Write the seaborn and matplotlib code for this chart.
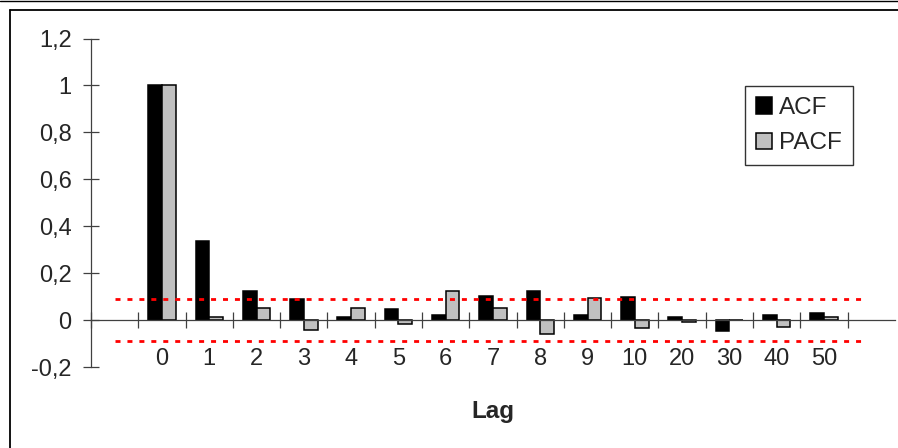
import numpy as np
import pandas as pd
import seaborn as sns
import matplotlib.pyplot as plt
from matplotlib.lines import Line2D
from matplotlib.patches import Patch

# Autocorrelation and partial autocorrelation by lag
lags = ["0", "1", "2", "3", "4", "5", "6", "7", "8", "9", "10", "20", "30", "40", "50"]
acf = [1.0, 0.335, 0.124, 0.088, 0.012, 0.046, 0.02, 0.104, 0.123, 0.02, 0.097,
       0.012, -0.046, 0.02, 0.029]
pacf = [1.0, 0.012, 0.053, -0.043, 0.053, -0.017, 0.123, 0.053, -0.061, 0.095,
        -0.033, -0.01, 0.0, -0.028, 0.012]
conf_bound = 0.089  # approximate 95% significance band
y_ticks = [-0.2, 0.0, 0.2, 0.4, 0.6, 0.8, 1.0, 1.2]
y_labels = ["-0,2", "0", "0,2", "0,4", "0,6", "0,8", "1", "1,2"]

df = pd.DataFrame({
    "Lag": lags * 2,
    "value": acf + pacf,
    "series": ["ACF"] * len(lags) + ["PACF"] * len(lags),
})

sns.set_style("white")
plt.rcParams["font.family"] = ["Liberation Sans", "DejaVu Sans"]

fig = plt.figure(figsize=(8.98, 4.48), dpi=100)
ax = fig.add_axes([0.10134, 0.18080, 0.89532, 0.73326])

palette = {"ACF": "#000000", "PACF": "#C0C0C0"}
sns.barplot(data=df, x="Lag", y="value", hue="series", order=lags,
            hue_order=["ACF", "PACF"], palette=palette, width=0.58,
            edgecolor="black", linewidth=1.1, saturation=1, ax=ax)

# significance band
ax.hlines([conf_bound, -conf_bound], -1, len(lags) - 0.2, colors="#FF0000",
          linewidth=2.0, linestyles=(0, (1.8, 2.5)), zorder=5)

ax.set_xlim(-1.5, len(lags) + 0.5 + 1e-3)
ax.set_ylim(-0.2, 1.2)

axis_color = "#404040"
for side in ["top", "right"]:
    ax.spines[side].set_visible(False)
ax.spines["left"].set_color(axis_color)
ax.spines["left"].set_linewidth(0.9)
ax.spines["bottom"].set_position(("data", 0))
ax.spines["bottom"].set_color(axis_color)
ax.spines["bottom"].set_linewidth(0.9)

ax.set_yticks(y_ticks)
ax.set_yticklabels(y_labels)
ax.tick_params(axis="y", which="major", left=True, direction="inout",
               length=12, width=0.9, color=axis_color, labelsize=17, pad=8)

ax.set_xticks(np.arange(len(lags)))
ax.set_xticklabels(lags)
ax.set_xticks(np.arange(len(lags) + 2) - 1.5, minor=True)
ax.tick_params(axis="x", which="major", bottom=True, length=0,
               labelsize=17, pad=20)
ax.tick_params(axis="x", which="minor", bottom=True, direction="inout",
               length=12, width=0.9, color=axis_color)

ax.set_ylabel("")
ax.set_xlabel("Lag", fontsize=17.5, fontweight="bold")
ax.xaxis.set_label_coords(0.5, -0.1)

if ax.get_legend() is not None:
    ax.get_legend().remove()
handles = [Patch(facecolor=palette[s], edgecolor="black", linewidth=1.1)
           for s in ["ACF", "PACF"]]
leg = fig.legend(handles, ["ACF", "PACF"], loc="upper left",
                 bbox_to_anchor=(745 / 898, 1 - 86 / 448),
                 bbox_transform=fig.transFigure, borderaxespad=0,
                 fontsize=17.5, frameon=True, fancybox=False,
                 handlelength=0.66, handleheight=0.66, handletextpad=0.3,
                 labelspacing=0.55, borderpad=0.45, edgecolor="black")
leg.get_frame().set_linewidth(1.0)

# outer chart frame
fig.add_artist(Line2D([0, 1], [1 - 0.6 / 448] * 2, color="black", lw=1.0,
                      transform=fig.transFigure))
fig.add_artist(Line2D([9.5 / 898, 1], [1 - 10.5 / 448] * 2, color="black",
                      lw=1.3, transform=fig.transFigure))
fig.add_artist(Line2D([9.5 / 898] * 2, [0, 1 - 10.5 / 448], color="black",
                      lw=1.3, transform=fig.transFigure))

fig.savefig("out.png", dpi=100, facecolor="white")
